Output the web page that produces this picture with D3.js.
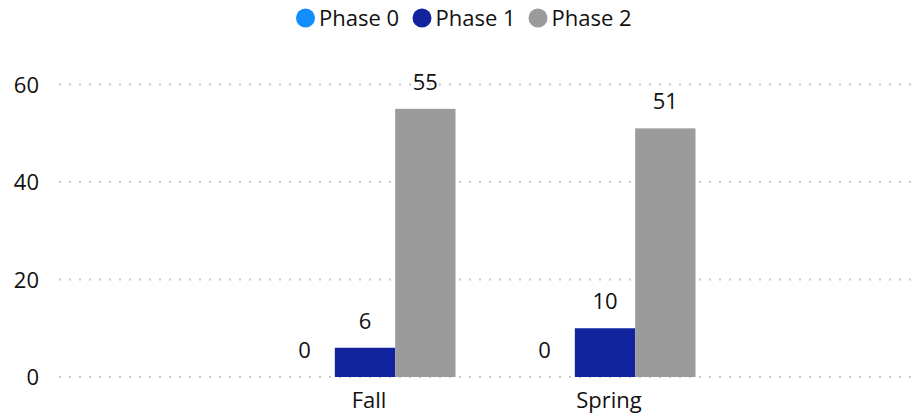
<!DOCTYPE html>
<html>
<head>
<meta charset="utf-8">
<script src="https://cdn.jsdelivr.net/npm/d3@7"></script>
<style>
  body { margin: 0; background: #fff; }
  svg text { font-family: "Open Sans", "Noto Sans", sans-serif; fill: #111; }
</style>
</head>
<body>
<svg class="chart1" width="915" height="418"></svg>
<script>
// data
const categories = ["Fall", "Spring"];
const seriesNames = ["Phase 0", "Phase 1", "Phase 2"];
const phase0 = [0, 0];
const phase1 = [6, 10];
const phase2 = [55, 51];
const yTicks = [0, 20, 40, 60];
const colors = ["#118DFF", "#12239E", "#9B9B9B"];

drawChart();

function drawChart() {
  var svg = d3.select(".chart1"),
      width = +svg.attr("width"),
      height = +svg.attr("height");

  var left = 59, right = 912, top = 84.5, bottom = 377;
  var series = [phase0, phase1, phase2];

  // table built from the arrays
  var rows = categories.map((c, i) => ({
    cat: c,
    vals: seriesNames.map((s, j) => ({ key: s, value: series[j][i], color: colors[j] }))
  }));

  var y = d3.scaleLinear().domain([0, 60]).range([bottom, top]);

  // groups are centred in the plot area, 240px apart
  var mid = (left + right) / 2 - 0.5;
  var x0 = d3.scaleBand().domain(categories).range([mid - 240, mid + 240]).paddingInner(0).paddingOuter(0);
  var x1 = d3.scaleBand().domain(seriesNames).range([29.5, 240 - 29.5]).padding(0);

  // gridlines
  svg.append("g").selectAll("line").data(yTicks).enter().append("line")
    .attr("x1", left).attr("x2", right)
    .attr("y1", d => y(d)).attr("y2", d => y(d))
    .attr("stroke", "#c8c8c8")
    .attr("stroke-width", 2)
    .attr("stroke-dasharray", "2 8");

  // y axis labels
  var yAxis = d3.axisLeft(y).tickValues(yTicks).tickSize(0).tickPadding(0);
  var ya = svg.append("g").attr("transform", "translate(39,0)").call(yAxis);
  ya.select(".domain").remove();
  ya.selectAll("text").style("font-size", "22px").attr("dy", "0.36em").attr("fill", "#111");

  // x axis labels
  var xAxis = d3.axisBottom(x0).tickSize(0).tickPadding(0);
  var xa = svg.append("g").attr("transform", "translate(4," + (bottom + 10) + ")").call(xAxis);
  xa.select(".domain").remove();
  xa.selectAll("text").style("font-size", "22px").attr("dy", "0.95em").attr("fill", "#111");

  // bars
  var groups = svg.append("g").selectAll("g").data(rows).enter().append("g")
    .attr("transform", d => "translate(" + x0(d.cat) + ",0)");

  groups.selectAll("rect").data(d => d.vals).enter().append("rect")
    .attr("x", d => x1(d.key))
    .attr("width", x1.bandwidth())
    .attr("y", d => y(d.value))
    .attr("height", d => bottom - y(d.value))
    .attr("fill", d => d.color);

  groups.selectAll("text.lbl").data(d => d.vals).enter().append("text")
    .attr("class", "lbl")
    .attr("x", d => x1(d.key) + x1.bandwidth() / 2)
    .attr("y", d => y(d.value) - 19)
    .attr("text-anchor", "middle")
    .style("font-size", "22px")
    .text(d => d.value);

  // legend
  var legendX = [305.5, 422, 538];
  var lg = svg.append("g").selectAll("g").data(seriesNames).enter().append("g")
    .attr("transform", (d, i) => "translate(" + legendX[i] + ",18)");
  lg.append("circle").attr("r", 9.5).attr("fill", (d, i) => colors[i]);
  lg.append("text").attr("x", 13.5).attr("dy", "0.36em")
    .style("font-size", "22px")
    .text(d => d);
}
</script>
</body>
</html>
